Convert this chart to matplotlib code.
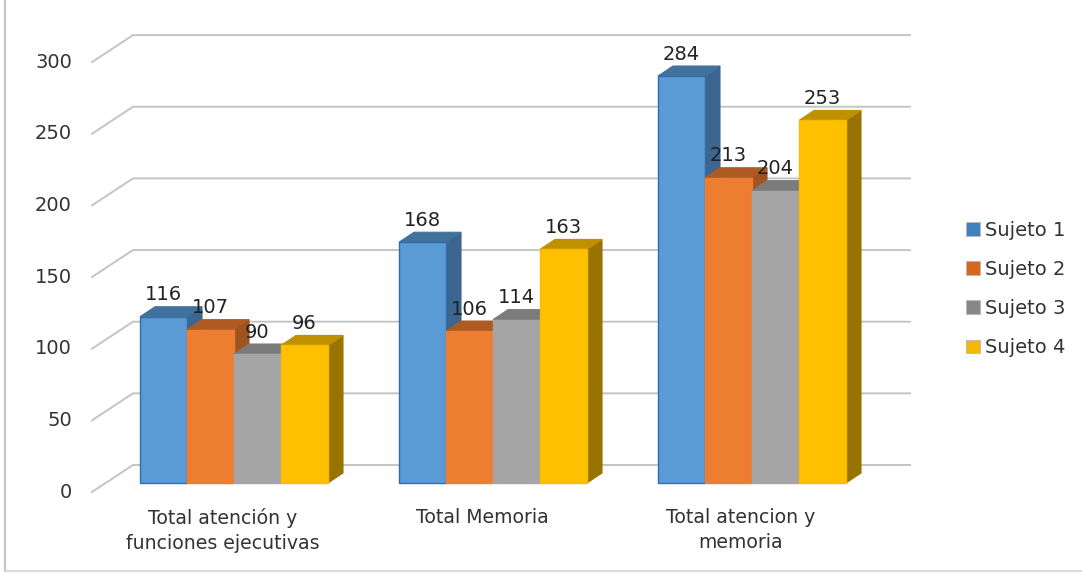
import matplotlib
matplotlib.use('Agg')
import matplotlib.pyplot as plt
from matplotlib.patches import Polygon, Patch
from matplotlib.lines import Line2D
import numpy as np

categories = ['Total atención y\nfunciones ejecutivas', 'Total Memoria', 'Total atencion y\nmemoria']
series_names = ['Sujeto 1', 'Sujeto 2', 'Sujeto 3', 'Sujeto 4']
sujeto1 = [116, 168, 284]
sujeto2 = [107, 106, 213]
sujeto3 = [90, 114, 204]
sujeto4 = [96, 163, 253]
y_ticks = [0, 50, 100, 150, 200, 250, 300]

front_colors = ['#5b9bd5', '#ed7d31', '#a5a5a5', '#ffc000']
edge_colors = ['#2f6ea8', '#ed7d31', '#a5a5a5', '#f7bb00']
top_colors = ['#41719c', '#ae5a21', '#7b7b7b', '#bf9000']
side_colors = ['#3c6690', '#a0521f', '#757575', '#997300']
legend_colors = ['#3f80bf', '#d9661f', '#878787', '#f5b800']

# pixel scale of the picture, everything else goes through the data axes
GROUP_PX = 259.0
UNIT_PX = 1.433
X0_PX = 234.0
Y0_PX = 483.0
W, H = 1082, 573

bar_w = 47.0 / GROUP_PX
depth_x = 15.0 / GROUP_PX
depth_y = 10.0 / UNIT_PX
wall_x0 = (133 - X0_PX) / GROUP_PX
wall_x1 = (910 - X0_PX) / GROUP_PX
floor_x = (92 - X0_PX) / GROUP_PX
wall_dy = 18.0 / UNIT_PX
floor_dy = -9.0 / UNIT_PX

plt.rcParams['font.family'] = ['DejaVu Sans']
fig = plt.figure(figsize=(W / 100, H / 100), dpi=100)
ax = fig.add_axes([0, 0, 1, 1])
ax.set_xlim(-X0_PX / GROUP_PX, (W - X0_PX) / GROUP_PX)
ax.set_ylim((Y0_PX - H) / UNIT_PX, Y0_PX / UNIT_PX)
ax.axis('off')

## walls and tick labels
for v in y_ticks:
    ax.plot([floor_x, wall_x0, wall_x1], [v + floor_dy, v + wall_dy, v + wall_dy],
            color='#c4c4c4', lw=1.4, zorder=1, solid_joinstyle='miter')
    ax.annotate(str(v), (floor_x, v + floor_dy), xytext=(-20, 0), textcoords='offset pixels',
                ha='right', va='center', fontsize=14, color='#333333')

## bars, drawn left to right so each one covers the side of the one before
x = np.arange(len(categories))
all_series = [sujeto1, sujeto2, sujeto3, sujeto4]
for i, values in enumerate(all_series):
    lefts = x + (i - 2) * bar_w
    z = 3 + i
    for left, v in zip(lefts, values):
        right = left + bar_w
        side = [(right, 0), (right + depth_x, depth_y), (right + depth_x, v + depth_y), (right, v)]
        top = [(left, v), (left + depth_x, v + depth_y), (right + depth_x, v + depth_y), (right, v)]
        ax.add_patch(Polygon(side, closed=True, fc=side_colors[i], ec=side_colors[i], lw=0.8, zorder=z))
        ax.add_patch(Polygon(top, closed=True, fc=top_colors[i], ec=top_colors[i], lw=0.8, zorder=z))
    ax.bar(lefts, values, width=bar_w, align='edge', color=front_colors[i],
           edgecolor=edge_colors[i], linewidth=1.0, zorder=z + 0.5)

## data labels on top of everything
for i, values in enumerate(all_series):
    lefts = x + (i - 2) * bar_w
    for left, v in zip(lefts, values):
        ax.annotate(str(v), (left + bar_w / 2, v), xytext=(0, 22), textcoords='offset pixels',
                    ha='center', va='center', fontsize=14, color='#222222', zorder=10)

## category labels
for xi, label in zip(x, categories):
    ax.annotate(label, (xi, 0), xytext=(-11, -25), textcoords='offset pixels', ha='center', va='top',
                fontsize=13.6, color='#333333', linespacing=1.42)

handles = [Patch(facecolor=c, edgecolor='#b8b8b8', linewidth=0.6) for c in legend_colors]
leg = ax.legend(handles, series_names, loc='center left', bbox_to_anchor=(966 / W, 1 - 289 / H),
                bbox_transform=fig.transFigure, frameon=False, fontsize=14, handlelength=0.72,
                handleheight=0.72, handletextpad=0.28, labelspacing=1.04, borderpad=0, borderaxespad=0,
                labelcolor='#333333')

## frame of the pasted picture
fig.add_artist(Line2D([5 / W, 5 / W], [2 / H, 1], color='#c8c8c8', lw=1.6))
fig.add_artist(Line2D([5 / W, 1], [2 / H, 2 / H], color='#d4d4d4', lw=1.2))

plt.savefig('out.png', dpi=100)
plt.close()
